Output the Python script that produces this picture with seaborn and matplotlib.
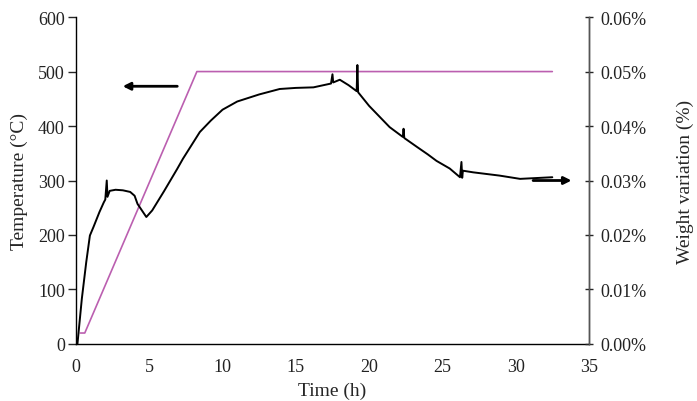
import matplotlib
matplotlib.use("Agg")
import matplotlib.pyplot as plt
import seaborn as sns
import pandas as pd
from matplotlib.ticker import FuncFormatter

# Temperature program (left axis, °C)
temp_time = [0.3, 0.6, 8.25, 32.5]
temp_vals = [20, 20, 500, 500]

# Weight variation (right axis, %)
w_time = [0.1, 0.4, 0.7, 0.95, 1.2, 1.6, 1.9, 2.0, 2.1, 2.15, 2.3, 2.7, 3.2, 3.7, 4.0,
          4.2, 4.5, 4.8, 5.2, 6.0, 6.9, 7.3, 8.45, 9.2, 10.0, 11.0, 12.5, 13.9, 15.0,
          16.2, 17.4, 17.5, 17.55, 18.0, 18.6, 19.15, 19.2, 19.25, 20.0, 21.4, 22.3,
          22.35, 22.4, 23.3, 24.0, 24.6, 25.5, 26.2, 26.3, 26.35, 26.4, 27.1, 28.9,
          30.3, 32.5]
w_vals = [0.0, 0.0083, 0.0150, 0.0199, 0.0215, 0.0242, 0.0260, 0.0265, 0.0300, 0.0270,
          0.0281, 0.0283, 0.0282, 0.0279, 0.0272, 0.0257, 0.0245, 0.0233, 0.0245, 0.0280,
          0.0321, 0.0340, 0.0389, 0.0410, 0.0430, 0.0445, 0.0458, 0.0468, 0.0470, 0.0471,
          0.0478, 0.0495, 0.0480, 0.0485, 0.0475, 0.0464, 0.0512, 0.0462, 0.0437, 0.0398,
          0.0380, 0.0395, 0.0378, 0.0361, 0.0348, 0.0336, 0.0322, 0.0306, 0.0334, 0.0305,
          0.0318, 0.0315, 0.0309, 0.0303, 0.0306]

x_ticks = [0, 5, 10, 15, 20, 25, 30, 35]
y_left_ticks = [0, 100, 200, 300, 400, 500, 600]
y_right_ticks = [0.0, 0.01, 0.02, 0.03, 0.04, 0.05, 0.06]

sns.set_style("white")
plt.rcParams['font.family'] = ['Liberation Serif', 'DejaVu Serif']
plt.rcParams['font.size'] = 13

fig = plt.figure(figsize=(6.97, 4.02), dpi=100)
ax = fig.add_axes([0.109, 0.142, 0.736, 0.813])
ax2 = ax.twinx()

df_t = pd.DataFrame({"t": temp_time, "v": temp_vals})
df_w = pd.DataFrame({"t": w_time, "v": w_vals})

sns.lineplot(data=df_t, x="t", y="v", ax=ax, color="#bb5fb0", lw=1.2,
             estimator=None, sort=False)
sns.lineplot(data=df_w, x="t", y="v", ax=ax2, color="black", lw=1.4,
             estimator=None, sort=False)

ax.set_xlim(0, 35)
ax.set_ylim(0, 600)
ax2.set_ylim(0, 0.06)
ax.set_xticks(x_ticks)
ax.set_yticks(y_left_ticks)
ax2.set_yticks(y_right_ticks)
ax2.yaxis.set_major_formatter(FuncFormatter(lambda v, p: f"{v:.2f}%"))

ax.set_xlabel("Time (h)", fontsize=14, labelpad=5)
ax.set_ylabel("Temperature (°C)", fontsize=14, labelpad=7)
ax2.set_ylabel("Weight variation (%)", fontsize=14, labelpad=22)

for a in (ax, ax2):
    a.spines['top'].set_visible(False)
    for s in a.spines.values():
        s.set_linewidth(1.0)
ax.spines['left'].set_color("black")
ax.spines['bottom'].set_color("black")
ax2.spines['right'].set_color("#555555")
ax2.spines['left'].set_visible(False)
ax2.spines['bottom'].set_visible(False)

ax.tick_params(axis='x', direction='in', length=4, width=1, pad=10, labelsize=13,
               labelcolor="#222222")
ax.tick_params(axis='y', direction='out', length=6, width=1, pad=2, labelsize=13,
               labelcolor="#222222")
ax2.tick_params(axis='y', direction='inout', length=6, width=1, pad=5, labelsize=13,
                labelcolor="#222222")

# Arrows indicating axes
ax.annotate("", xy=(3.0, 473), xytext=(7.1, 473),
            arrowprops=dict(arrowstyle="-|>", color="black", lw=2, mutation_scale=11))
ax.annotate("", xy=(34.0, 300), xytext=(31.0, 300),
            arrowprops=dict(arrowstyle="-|>", color="black", lw=2, mutation_scale=11))

fig.savefig("out.png", dpi=100)
